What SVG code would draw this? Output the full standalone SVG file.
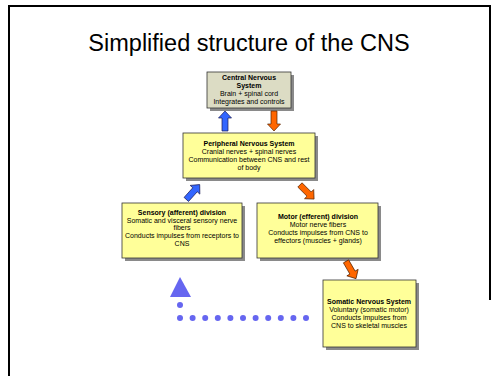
<svg xmlns="http://www.w3.org/2000/svg" width="502" height="376" viewBox="0 0 502 376">
<style>
.t{font-family:"Liberation Sans",Arial,sans-serif;font-size:7px;fill:#000;text-anchor:middle}
.b{font-weight:bold}
.title{font-family:"Liberation Sans",Arial,sans-serif;font-size:23.5px;fill:#000;text-anchor:middle}
.box{fill:#ffff99;stroke:#333;stroke-width:0.8}
.cns{fill:#dcdcc4;stroke:#333;stroke-width:0.8}
.sh{fill:#8a8a8a}
.blue{fill:#3366ff;stroke:#1a1a55;stroke-width:0.7}
.orange{fill:#ff6600;stroke:#552200;stroke-width:0.7}
.dot{fill:#6666f0}
</style>
<defs>
<path id="arr" d="M-3,10 L-3,-3 L-6.5,-3 L0,-10 L6.5,-3 L3,-3 L3,10 Z"/>
</defs>
<rect width="502" height="376" fill="#fff"/>
<g id="frame" fill="none" stroke="#000" stroke-width="2">
<path d="M9,376 L9,6 L490,6 L490,300"/>
</g>
<text class="title" x="249" y="51">Simplified structure of the CNS</text>

<g id="cns">
<rect class="sh" x="210" y="75" width="84" height="36"/>
<rect class="cns" x="207" y="72" width="84" height="36"/>
<text class="t b" x="249" y="80">Central Nervous</text>
<text class="t b" x="249" y="88">System</text>
<text class="t" x="249" y="96">Brain + spinal cord</text>
<text class="t" x="249" y="104">Integrates and controls</text>
</g>

<g id="pns">
<rect class="sh" x="186" y="136" width="132" height="45"/>
<rect class="box" x="183" y="133" width="132" height="45"/>
<text class="t b" x="249" y="146">Peripheral Nervous System</text>
<text class="t" x="249" y="154">Cranial nerves + spinal nerves</text>
<text class="t" x="249" y="162">Communication between CNS and rest</text>
<text class="t" x="249" y="170">of body</text>
</g>

<g id="sensory">
<rect class="sh" x="125" y="206" width="120" height="55"/>
<rect class="box" x="122" y="203" width="120" height="55"/>
<text class="t b" x="182" y="215">Sensory (afferent) division</text>
<text class="t" x="182" y="223">Somatic and visceral sensory nerve</text>
<text class="t" x="182" y="230">fibers</text>
<text class="t" x="182" y="238">Conducts impulses from receptors to</text>
<text class="t" x="182" y="246">CNS</text>
</g>

<g id="motor">
<rect class="sh" x="260" y="206" width="121" height="55"/>
<rect class="box" x="257" y="203" width="121" height="55"/>
<text class="t b" x="318" y="219">Motor (efferent) division</text>
<text class="t" x="318" y="227">Motor nerve fibers</text>
<text class="t" x="318" y="235">Conducts impulses from CNS to</text>
<text class="t" x="318" y="243">effectors (muscles + glands)</text>
</g>

<g id="somatic">
<rect class="sh" x="326" y="283" width="93" height="67"/>
<rect class="box" x="323" y="280" width="93" height="67"/>
<text class="t b" x="369" y="304">Somatic Nervous System</text>
<text class="t" x="369" y="312">Voluntary (somatic motor)</text>
<text class="t" x="369" y="320">Conducts impulses from</text>
<text class="t" x="369" y="328">CNS to skeletal muscles</text>
</g>

<g id="connectors">
<use href="#arr" class="blue" transform="translate(225,121)"/>
<use href="#arr" class="orange" transform="translate(274,121) rotate(180)"/>
<use href="#arr" class="blue" transform="translate(193,192) rotate(42)"/>
<use href="#arr" class="orange" transform="translate(307,192) rotate(135)"/>
<use href="#arr" class="orange" transform="translate(351,270) rotate(150)"/>
<g id="feedback" class="dot">
<polygon points="180,277 170,297 191,297"/>
<circle cx="180" cy="305" r="3"/>
<circle cx="180" cy="318" r="3"/>
<circle cx="192.6" cy="318" r="3"/>
<circle cx="205.2" cy="318" r="3"/>
<circle cx="217.8" cy="318" r="3"/>
<circle cx="230.4" cy="318" r="3"/>
<circle cx="243" cy="318" r="3"/>
<circle cx="255.6" cy="318" r="3"/>
<circle cx="268.2" cy="318" r="3"/>
<circle cx="280.8" cy="318" r="3"/>
<circle cx="293.4" cy="318" r="3"/>
<circle cx="306" cy="318" r="3"/>
</g>
</g>
</svg>
